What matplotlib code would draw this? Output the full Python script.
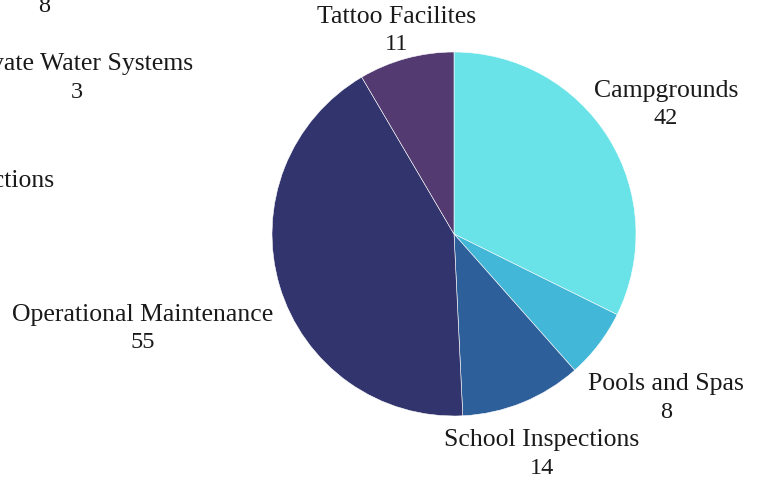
import matplotlib
matplotlib.use('Agg')
import matplotlib.pyplot as plt

# visible slices, clockwise from 12 o'clock
categories = ['Campgrounds', 'Pools and Spas', 'School Inspections',
              'Operational Maintenance', 'Tattoo Facilites']
values = [42, 8, 14, 55, 11]
colors = ['#69e3e8', '#42b7d7', '#2d5f9a', '#31346d', '#533b72']

# labels of the other series that sit partly outside the canvas
other_names = ['', 'Private Water Systems', 'Inspections']
other_values = ['8', '3', '']

W, H = 758, 480
fig = plt.figure(figsize=[W / 100, H / 100], dpi=100)
ax = fig.add_axes([0, 0, 1, 1])

cx, cy, r = 454, H - 234, 182
ax.pie(values, colors=colors, startangle=90, counterclock=False,
       center=(cx, cy), radius=r, frame=True,
       wedgeprops=dict(linewidth=0.4, edgecolor='white'))
ax.set_xlim(0, W)
ax.set_ylim(0, H)
ax.set_aspect('equal')
ax.axis('off')

font = dict(family=['Liberation Serif', 'DejaVu Serif'], color='#1a1a1a')
fs = 18.5
gap = 28

# label anchor (x, y of name line) in pixels from top-left
label_pos = [(666, 91), (666, 384), (542, 440), (143, 315), (397, 17)]
for name, v, (x, y) in zip(categories, values, label_pos):
    ax.text(x, H - y, name, ha='center', va='center', fontsize=fs, **font)
    ax.text(x, H - y - gap, str(v), ha='center', va='center', fontsize=fs - 1, **font)

other_pos = [(44, -22, 'center'), (77, 64, 'center'), (54, 181, 'right')]
for name, v, (x, y, ha) in zip(other_names, other_values, other_pos):
    if name:
        ax.text(x, H - y, name, ha=ha, va='center', fontsize=fs, **font)
    if v:
        ax.text(x, H - y - gap, v, ha='center', va='center', fontsize=fs - 1, **font)

fig.savefig('out.png', dpi=100)
